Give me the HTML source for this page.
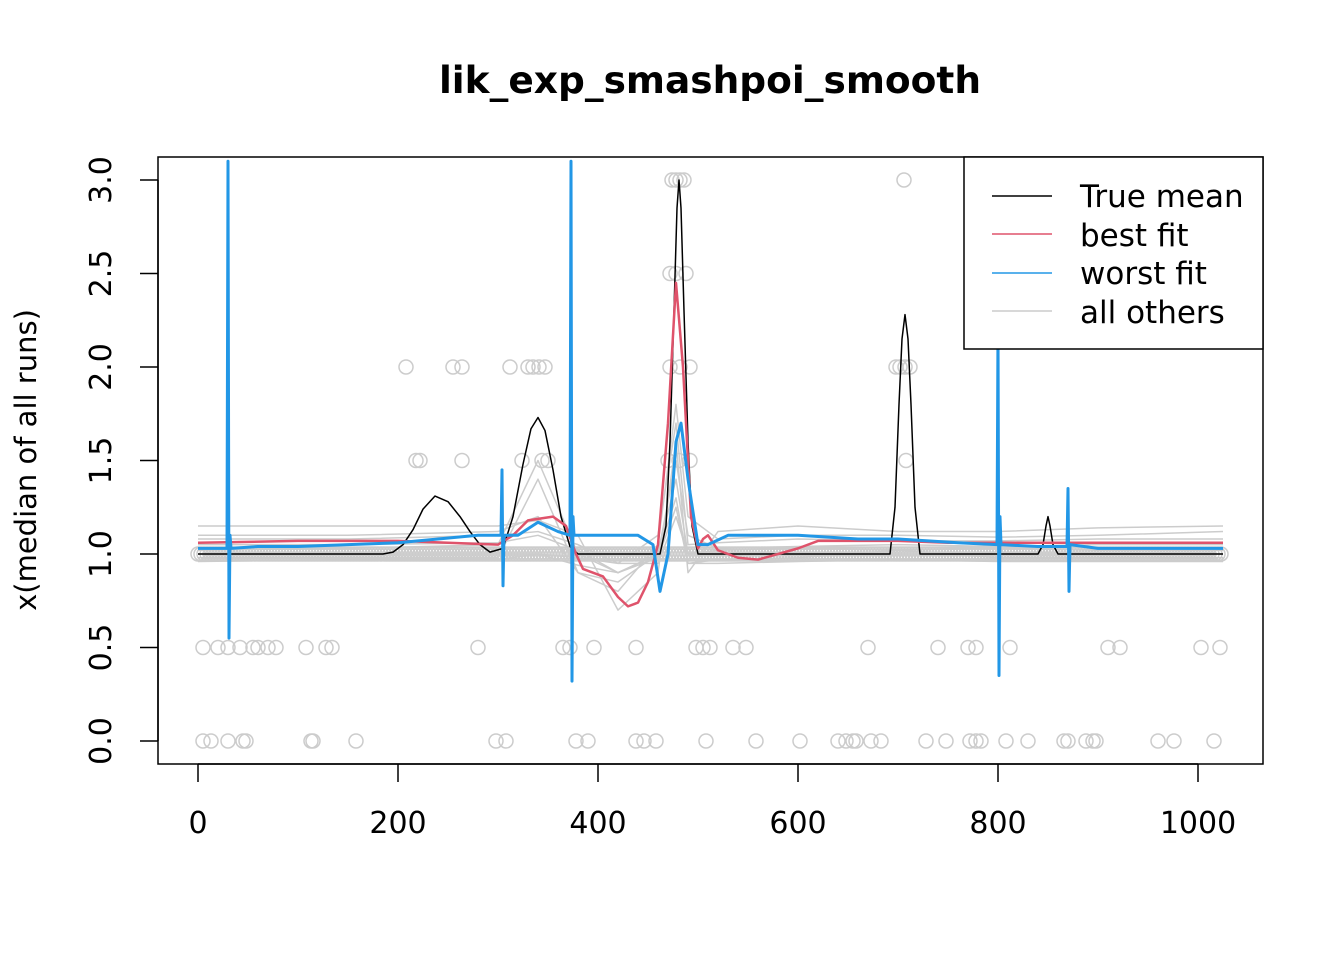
<!DOCTYPE html>
<html><head><meta charset="utf-8">
<style>
body{margin:0;background:#fff;}
svg text{font-family:"DejaVu Sans","Liberation Sans",sans-serif;}
</style></head>
<body>
<svg id="chart" width="1344" height="960" xmlns="http://www.w3.org/2000/svg">
<rect width="1344" height="960" fill="#fff"/>
<text x="710" y="93" text-anchor="middle" font-size="37.5" font-weight="bold">lik_exp_smashpoi_smooth</text>
<g id="plot"></g>
<rect x="158" y="157" width="1105" height="607" fill="none" stroke="#000" stroke-width="1.5"/>
<text transform="translate(36,460) rotate(-90)" text-anchor="middle" font-size="29">x(median of all runs)</text>
<g id="axes"></g>
<g>
<rect x="964" y="157" width="299" height="192" fill="#fff" stroke="#000" stroke-width="1.5"/>
<line x1="992" y1="196" x2="1052" y2="196" stroke="#000" stroke-width="1.5"/>
<text x="1080" y="207" font-size="31">True mean</text>
<line x1="992" y1="234" x2="1052" y2="234" stroke="#DF536B" stroke-width="1.5"/>
<text x="1080" y="246" font-size="31">best fit</text>
<line x1="992" y1="273" x2="1052" y2="273" stroke="#2297E6" stroke-width="1.5"/>
<text x="1080" y="284" font-size="31">worst fit</text>
<line x1="992" y1="311" x2="1052" y2="311" stroke="#CCCCCC" stroke-width="1.5"/>
<text x="1080" y="323" font-size="31">all others</text>
</g>
</svg>
<script>
const xTicks=[0,200,400,600,800,1000];
const yTicks=[0,0.5,1,1.5,2,2.5,3];
const yTickLabels=["0.0","0.5","1.0","1.5","2.0","2.5","3.0"];
const trueX=[0,185,195,205,215,225,237,250,262,272,282,292,305,315,325,333,340,347,355,363,372,380,462,468,472,476,479,481,483,486,490,494,500,692,697,701,704,707,710,713,717,722,840,845,848,850,852,855,860,1025];
const trueY=[1,1,1.01,1.05,1.13,1.24,1.31,1.28,1.2,1.12,1.05,1.01,1.03,1.2,1.48,1.67,1.73,1.66,1.45,1.2,1.04,1,1,1.15,1.6,2.3,2.85,3.0,2.85,2.3,1.6,1.15,1,1,1.25,1.8,2.15,2.28,2.15,1.8,1.25,1,1,1.05,1.15,1.2,1.15,1.05,1,1];
const bestX=[0,100,200,300,315,330,355,368,378,385,395,405,420,430,440,450,460,470,478,485,493,500,505,510,520,540,560,600,620,700,750,800,900,1025];
const bestY=[1.06,1.07,1.07,1.05,1.1,1.18,1.2,1.15,1.0,0.92,0.9,0.88,0.77,0.72,0.74,0.85,1.05,1.7,2.45,2.0,1.2,1.03,1.08,1.1,1.02,0.98,0.97,1.03,1.07,1.07,1.06,1.06,1.06,1.06];
const worstX=[0,29,30,31,32,33,60,100,200,280,303,304,305,306,320,340,360,372,373,374,375,376,400,440,455,462,470,478,483,490,500,510,530,600,660,700,760,799,800,801,802,803,840,869,870,871,872,900,1025];
const worstY=[1.03,1.03,3.1,0.55,1.1,1.03,1.04,1.04,1.06,1.1,1.1,1.45,0.83,1.1,1.1,1.17,1.12,1.1,3.1,0.32,1.2,1.1,1.1,1.1,1.05,0.8,1.0,1.6,1.7,1.4,1.05,1.05,1.1,1.1,1.08,1.08,1.06,1.05,2.2,0.35,1.2,1.05,1.04,1.04,1.35,0.8,1.05,1.03,1.03];
const greyX=[0,150,300,340,380,420,460,478,490,520,600,700,800,900,1025];
const greyLines=[
[1.0,1.0,1.0,1.0,0.98,0.95,0.95,1.2,1.0,1.0,1.0,1.0,1.0,1.0,1.0],
[1.05,1.05,1.06,1.1,1.02,0.9,1.0,1.5,1.1,1.03,1.04,1.05,1.04,1.05,1.05],
[1.1,1.1,1.12,1.2,0.9,0.8,1.05,1.8,1.2,1.08,1.1,1.1,1.09,1.1,1.12],
[1.15,1.15,1.15,1.18,1.1,0.7,0.9,1.6,0.9,1.12,1.15,1.12,1.12,1.14,1.15],
[0.98,0.98,0.98,1.4,0.9,0.85,1.0,1.3,0.95,0.97,0.98,1.02,0.98,0.98,0.98],
[1.02,1.03,1.05,1.5,1.0,0.9,1.0,1.4,1.0,1.02,1.03,1.02,1.03,1.02,1.02],
[1.08,1.08,1.1,1.12,1.05,0.95,1.1,1.7,1.05,1.06,1.08,1.07,1.07,1.08,1.08],
[0.96,0.97,0.97,1.0,0.94,0.9,0.98,1.25,0.95,0.95,0.96,0.97,0.96,0.96,0.96]
];
const pts0=[5,13,30,45,48,113,115,158,298,308,378,390,438,446,458,508,558,602,640,648,655,658,673,683,728,748,772,778,783,808,830,866,870,888,895,898,960,976,1016];
const pts05=[5,20,30,42,55,60,70,78,108,128,134,280,365,372,396,438,498,505,512,535,548,670,740,770,778,812,910,922,1003,1022];
const pts15=[218,222,264,324,344,350,470,481,492,708];
const pts2=[208,255,264,312,330,335,341,347,472,482,492,698,702,707,712];
const pts25=[472,478,488];
const pts3=[474,478,482,486,706];
const pts1=[];
for(let x=0;x<=1025;x+=3){pts1.push(x);}

const sx=v=>198+v*1.0;
const sy=v=>741-v*187;
const NS="http://www.w3.org/2000/svg";
const plot=document.getElementById('plot');
const axes=document.getElementById('axes');
function poly(xs,ys,color,w,name){
  const p=document.createElementNS(NS,'polyline');
  p.setAttribute('points',xs.map((x,i)=>sx(x)+','+sy(ys[i])).join(' '));
  p.setAttribute('fill','none');p.setAttribute('stroke',color);p.setAttribute('stroke-width',w);
  p.setAttribute('stroke-linejoin','round');
  
  
  plot.appendChild(p);
}
function circles(xs,yv,name){
  xs.forEach(x=>{
    const c=document.createElementNS(NS,'circle');
    c.setAttribute('cx',sx(x));c.setAttribute('cy',sy(yv));c.setAttribute('r',7);
    c.setAttribute('fill','none');c.setAttribute('stroke','#CCCCCC');c.setAttribute('stroke-width',1.5);
    
    
    plot.appendChild(c);
  });
}
greyLines.forEach(ys=>poly(greyX,ys,'#CCCCCC',1.5,'grey-run-line'));
circles(pts1,1,'point-1');circles(pts0,0,'point-0');circles(pts05,0.5,'point-05');
circles(pts15,1.5,'point-15');circles(pts2,2,'point-2');circles(pts25,2.5,'point-25');circles(pts3,3,'point-3');
poly(trueX,trueY,'#000',1.5,'true-mean-line');
poly(bestX,bestY,'#DF536B',2.5,'best-fit-line');
poly(worstX,worstY,'#2297E6',3,'worst-fit-line');
const cov=document.createElementNS(NS,'rect');
cov.setAttribute('x',0);cov.setAttribute('y',110);cov.setAttribute('width',1344);cov.setAttribute('height',46);cov.setAttribute('fill','#fff');


plot.appendChild(cov);
let l=document.createElementNS(NS,'line');
l.setAttribute('x1',sx(0));l.setAttribute('x2',sx(1000));l.setAttribute('y1',764);l.setAttribute('y2',764);l.setAttribute('stroke','#000');l.setAttribute('stroke-width',1.5);


axes.appendChild(l);
xTicks.forEach(v=>{
  const t=document.createElementNS(NS,'line');
  t.setAttribute('x1',sx(v));t.setAttribute('x2',sx(v));t.setAttribute('y1',764);t.setAttribute('y2',782);t.setAttribute('stroke','#000');t.setAttribute('stroke-width',1.5);
  
  
  axes.appendChild(t);
  const tx=document.createElementNS(NS,'text');
  tx.setAttribute('x',sx(v));tx.setAttribute('y',833);tx.setAttribute('text-anchor','middle');tx.setAttribute('font-size',30);tx.textContent=v;
  
  
  axes.appendChild(tx);
});
l=document.createElementNS(NS,'line');
l.setAttribute('x1',158);l.setAttribute('x2',158);l.setAttribute('y1',sy(0));l.setAttribute('y2',sy(3));l.setAttribute('stroke','#000');l.setAttribute('stroke-width',1.5);


axes.appendChild(l);
yTicks.forEach((v,i)=>{
  const t=document.createElementNS(NS,'line');
  t.setAttribute('x1',140);t.setAttribute('x2',158);t.setAttribute('y1',sy(v));t.setAttribute('y2',sy(v));t.setAttribute('stroke','#000');t.setAttribute('stroke-width',1.5);
  
  
  axes.appendChild(t);
  const tx=document.createElementNS(NS,'text');
  tx.setAttribute('transform','translate(111,'+sy(v)+') rotate(-90)');tx.setAttribute('text-anchor','middle');tx.setAttribute('font-size',30);tx.textContent=yTickLabels[i];
  
  
  axes.appendChild(tx);
});
</script>
</body></html>
